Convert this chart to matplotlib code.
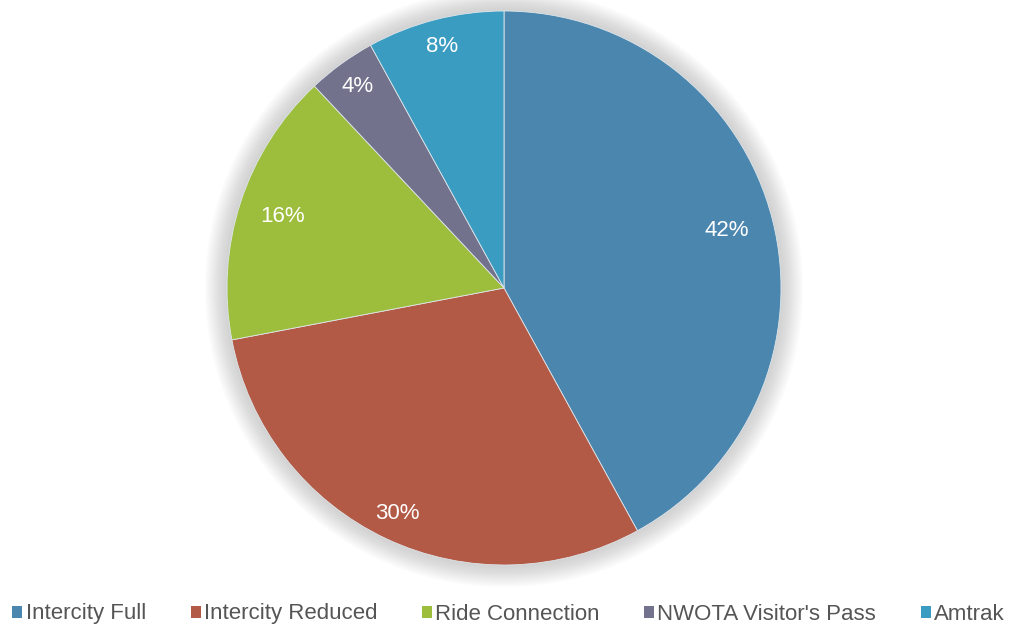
import matplotlib
matplotlib.use("Agg")
import matplotlib.pyplot as plt
from matplotlib.patches import Circle, Patch
import numpy as np

categories = ["Intercity Full", "Intercity Reduced", "Ride Connection",
              "NWOTA Visitor's Pass", "Amtrak"]
shares = [42, 30, 16, 4, 8]
colors = ["#4b86af", "#b35a46", "#9dbd3c", "#72728c", "#3b9cc2"]
label_radius = [0.83, 0.90, 0.84, 0.90, 0.90]

plt.rcParams["font.family"] = ["Liberation Sans", "DejaVu Sans"]

W, H = 1011, 631
fig = plt.figure(figsize=(W / 100, H / 100), dpi=100)
fig.patch.set_facecolor("white")

cx, cy, r = 504, H - 288, 277
ax = fig.add_axes([(cx - r) / W, (cy - r) / H, 2 * r / W, 2 * r / H])
ax.set_aspect("equal")
ax.axis("off")

# soft grey halo behind the pie
for k in np.linspace(1.08, 1.0, 18):
    ax.add_patch(Circle((0, 0), k, facecolor="#a0a0a0", edgecolor="none",
                        alpha=0.03, zorder=0, clip_on=False))

wedges, _ = ax.pie(shares, colors=colors, startangle=90, counterclock=False,
                   radius=1.0, wedgeprops=dict(edgecolor="#dfe6ea", linewidth=0.6))
for w in wedges:
    w.set_zorder(2)

total = sum(shares)
for w, val, d in zip(wedges, shares, label_radius):
    ang = np.deg2rad((w.theta1 + w.theta2) / 2)
    ax.text(d * np.cos(ang), d * np.sin(ang), f"{val * 100 // total}%",
            ha="center", va="center", color="white", fontsize=16, zorder=3)

ax.set_xlim(-1, 1)
ax.set_ylim(-1, 1)

handles = [Patch(facecolor=c, edgecolor="none") for c in colors]
fig.legend(handles, categories, loc="center", bbox_to_anchor=(0.503, (H - 614) / H),
           ncol=5, frameon=False, fontsize=16, handlelength=0.45, handleheight=0.45,
           handletextpad=0.15, columnspacing=2.0, labelcolor="#555555")

fig.savefig("out.png", dpi=100)
